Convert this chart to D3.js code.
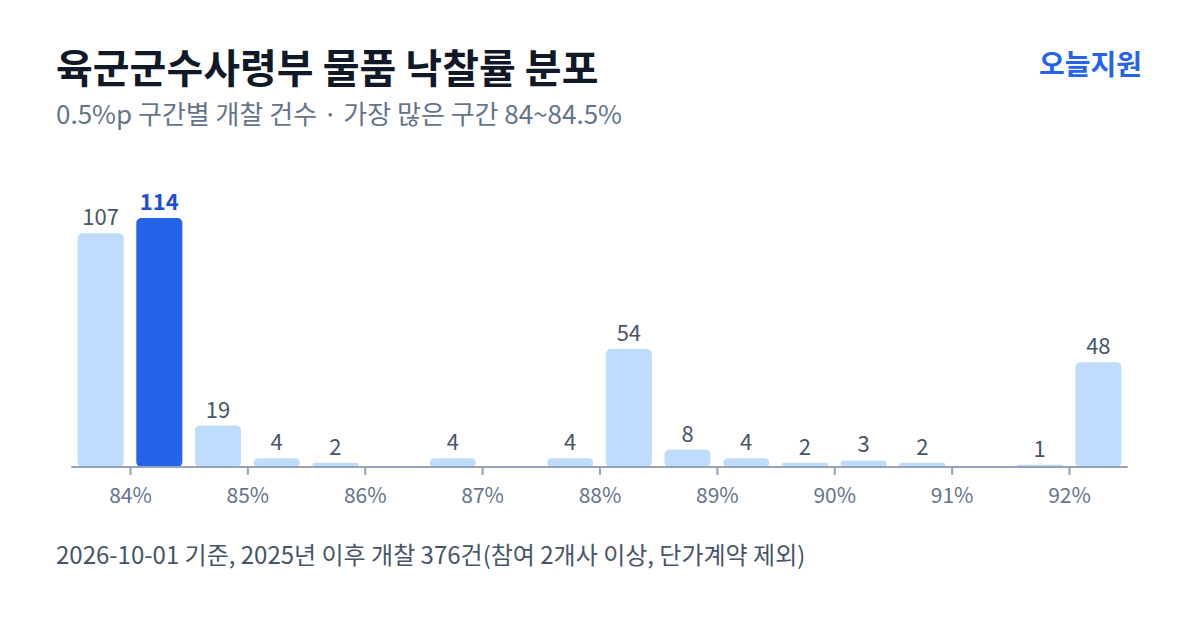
<!DOCTYPE html>
<html>
<head>
<meta charset="utf-8">
<script src="https://cdn.jsdelivr.net/npm/d3@7"></script>
<style>
  body { margin: 0; background: #fff; }
  svg { font-family: "Noto Sans CJK KR", "Noto Sans", sans-serif; }
</style>
</head>
<body>
<div id="grafico"></div>
<script>
// 구간 시작값 (0.5%p 단위)
const binStarts = [83.5, 84, 84.5, 85, 85.5, 86, 86.5, 87, 87.5, 88, 88.5, 89, 89.5, 90, 90.5, 91, 91.5, 92];
const counts = [107, 114, 19, 4, 2, 0, 4, 0, 4, 54, 8, 4, 2, 3, 2, 0, 1, 48];
const tickValues = [84, 85, 86, 87, 88, 89, 90, 91, 92];
const highlightStart = 84;

const width = 1200;
const height = 630;

const svg = d3.select('#grafico')
    .append('svg')
    .attr('width', width)
    .attr('height', height);

// 제목
svg.append('text')
    .attr('x', 56).attr('y', 83)
    .attr('font-size', 40).attr('font-weight', 700)
    .attr('fill', '#111827')
    .text('육군군수사령부 물품 낙찰률 분포');

svg.append('text')
    .attr('x', 56).attr('y', 124)
    .attr('font-size', 26)
    .attr('fill', '#64748b')
    .text('0.5%p 구간별 개찰 건수 · 가장 많은 구간 84~84.5%');

svg.append('text')
    .attr('x', 1142).attr('y', 75)
    .attr('text-anchor', 'end')
    .attr('font-size', 28).attr('font-weight', 700)
    .attr('fill', '#2563eb')
    .text('오늘지원');

// 스케일
const xScale = d3.scaleLinear()
    .domain([83.5, 92.5])
    .range([71.3, 1127.7]);

const yScale = d3.scaleLinear()
    .domain([0, 114])
    .range([467, 218]);

const pad = 6.3;
const data = binStarts.map((s, i) => ({ start: s, count: counts[i] }));

// 막대
svg.selectAll('rect.bar')
    .data(data.filter(d => d.count > 0))
    .enter()
    .append('rect')
    .attr('class', 'bar')
    .attr('x', d => xScale(d.start) + pad)
    .attr('y', d => yScale(d.count))
    .attr('width', d => xScale(d.start + 0.5) - xScale(d.start) - pad * 2)
    .attr('height', d => yScale(0) - yScale(d.count))
    .attr('rx', d => Math.min(5, (yScale(0) - yScale(d.count)) / 2))
    .attr('fill', d => d.start === highlightStart ? '#2563eb' : '#bfdbfe');

// 값 라벨
svg.selectAll('text.val')
    .data(data.filter(d => d.count > 0))
    .enter()
    .append('text')
    .attr('class', 'val')
    .attr('x', d => xScale(d.start + 0.25))
    .attr('y', d => yScale(d.count) - 8)
    .attr('text-anchor', 'middle')
    .attr('font-size', 22)
    .attr('font-weight', d => d.start === highlightStart ? 700 : 400)
    .attr('fill', d => d.start === highlightStart ? '#1d4ed8' : '#475569')
    .text(d => d.count);

// X축
const xAxis = d3.axisBottom(xScale)
    .tickValues(tickValues)
    .tickSize(8)
    .tickPadding(13)
    .tickFormat(d => d + '%');

const gx = svg.append('g')
    .attr('transform', `translate(0, ${yScale(0)})`)
    .call(xAxis);

gx.select('.domain')
    .attr('d', `M${xScale(83.5)},0H${xScale(92.5)}`)
    .attr('stroke', '#94a3b8')
    .attr('stroke-width', 2);
gx.selectAll('.tick line').attr('stroke', '#94a3b8').attr('stroke-width', 2);
gx.selectAll('.tick text')
    .attr('fill', '#64748b')
    .attr('font-size', 21)
    .attr('font-family', '"Noto Sans CJK KR", "Noto Sans", sans-serif');

// 주석
svg.append('text')
    .attr('x', 56).attr('y', 564)
    .attr('font-size', 24)
    .attr('fill', '#475569')
    .text('2026-10-01 기준, 2025년 이후 개찰 376건(참여 2개사 이상, 단가계약 제외)');
</script>
</body>
</html>
